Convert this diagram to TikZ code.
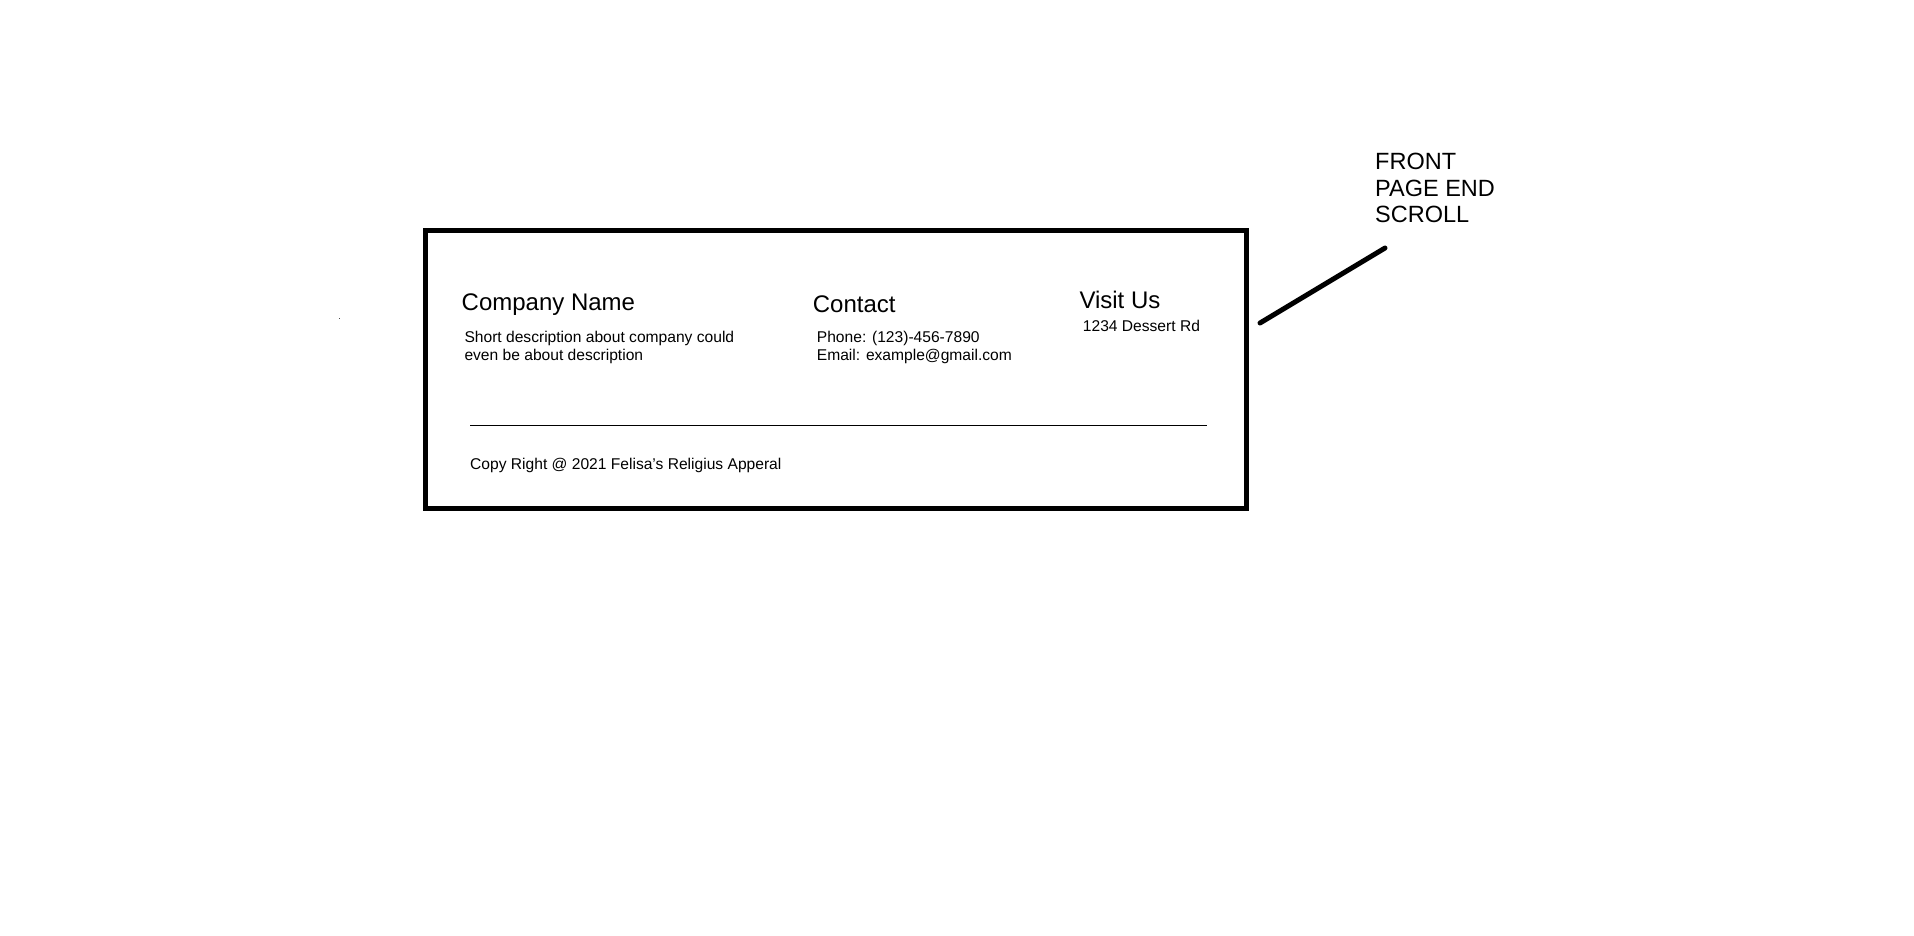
\documentclass[tikz,border=0pt]{standalone}
\usepackage{fontspec}
\setmainfont{Liberation Sans}
\begin{document}
\begin{tikzpicture}[x=1pt,y=-1pt,
  head/.style={anchor=base west,inner sep=0pt,font=\fontsize{24}{27}\selectfont},
  small/.style={anchor=base west,inner sep=0pt,font=\fontsize{15.6}{18}\selectfont},
  note/.style={anchor=base west,inner sep=0pt,font=\fontsize{23.5}{27}\selectfont},
  frame/.style={draw=black,line width=5pt},
  rule/.style={draw=black,line width=1pt},
  leader/.style={draw=black,line width=5pt,line cap=round}]
\useasboundingbox (0,0) rectangle (1914,935);
% footer frame
\draw[frame] (425,230) rectangle (1246,508);
% speck
\fill[black!70] (338.8,317.8) rectangle (340,319);
% column 1
\node[head] (cname) at (461.5,310) {Company Name};
\node[small] (desc1) at (464.3,342.7) {Short description about company could};
\node[small] (desc2) at (464.3,360) {even be about description};
% column 2
\node[head] (contact) at (812.7,312.7) {Contact};
\node[small] (phone) at (816.7,342.3) {Phone: (123)-456-7890};
\node[small] (email) at (816.7,360) {Email: example@gmail.com};
% column 3
\node[head] (visit) at (1079.3,308.3) {Visit Us};
\node[small] (addr) at (1082.7,331.7) {1234 Dessert Rd};
% divider
\coordinate (ruleL) at (470,425.5);
\coordinate (ruleR) at (1207,425.5);
\draw[rule] (ruleL) -- (ruleR);
\node[small] (copy) at (470,469.3) {Copy Right @ 2021 Felisa's Religius Apperal};
% annotation
\node[note] (n1) at (1375,169.3) {FRONT};
\node[note] (n2) at (1375,196) {PAGE END};
\node[note] (n3) at (1375,222.7) {SCROLL};
\coordinate (leadA) at (1260,323);
\coordinate (leadB) at (1385,248);
\draw[leader] (leadA) -- (leadB);
\end{tikzpicture}
\end{document}
